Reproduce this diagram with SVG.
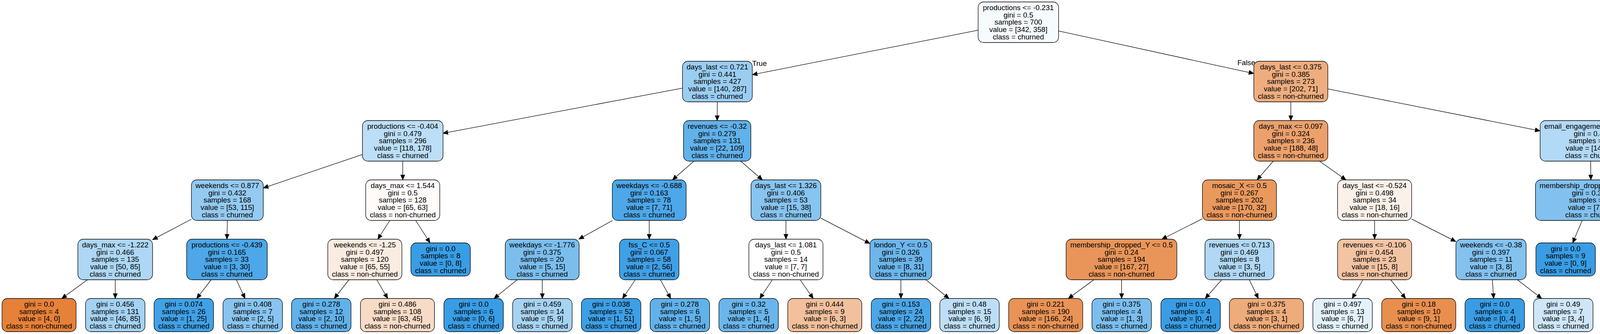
<svg xmlns="http://www.w3.org/2000/svg" width="4682" height="856" viewBox="0 0 4682 856">
<defs>
<style>
.node rect{stroke:#000;stroke-width:1.3}
.node text,.lbl{font-family:"Liberation Sans",Arial,Helvetica,sans-serif;font-size:18.67px;text-anchor:middle;fill:#000}
#edges line{stroke:#000;stroke-width:1.3;marker-end:url(#ah)}
</style>
<marker id="ah" markerUnits="userSpaceOnUse" markerWidth="14" markerHeight="12" refX="13" refY="6" orient="auto" viewBox="0 0 14 12"><path d="M0,0.5 L13,6 L0,11.5 z" fill="#000" stroke="#000" stroke-width="1"/></marker>
</defs>
<rect width="4682" height="856" fill="#fff"/>
<g id="edges">
<line x1="2504" y1="77.3" x2="1925.9" y2="191.4"/>
<line x1="2710" y1="79.4" x2="3209.7" y2="188.3"/>
<line x1="1747.1" y1="225.9" x2="1134" y2="341.6"/>
<line x1="1836.3" y1="261" x2="1836" y2="309"/>
<line x1="3304.5" y1="261" x2="3304.5" y2="309"/>
<line x1="3399.3" y1="227.8" x2="3942.6" y2="335.4"/>
<line x1="928" y1="395.9" x2="674" y2="481.9"/>
<line x1="1031" y1="413" x2="1031" y2="461"/>
<line x1="1776.5" y1="413" x2="1721.5" y2="461"/>
<line x1="1896.2" y1="413" x2="1951.8" y2="461"/>
<line x1="3259.5" y1="413" x2="3218" y2="461"/>
<line x1="3377.9" y1="413" x2="3445.6" y2="461"/>
<line x1="4072.2" y1="413" x2="4072.5" y2="461"/>
<line x1="4185.9" y1="413" x2="4303.7" y2="466.8"/>
<line x1="490" y1="561.7" x2="390.4" y2="614.4"/>
<line x1="582" y1="565" x2="581" y2="613"/>
<line x1="997.8" y1="565" x2="967.2" y2="613"/>
<line x1="1064.2" y1="565" x2="1100.9" y2="622.5"/>
<line x1="1568.3" y1="565" x2="1481.7" y2="613"/>
<line x1="1662" y1="565" x2="1662" y2="613"/>
<line x1="2012" y1="565" x2="2012" y2="613"/>
<line x1="2101.4" y1="559.2" x2="2227" y2="624.2"/>
<line x1="3078.2" y1="560.7" x2="2974.3" y2="613"/>
<line x1="3173" y1="565" x2="3173" y2="613"/>
<line x1="3519" y1="565" x2="3519" y2="613"/>
<line x1="3613.8" y1="561.4" x2="3727.1" y2="619.1"/>
<line x1="4050.4" y1="565" x2="4026" y2="622.5"/>
<line x1="4115.1" y1="565" x2="4154.4" y2="613"/>
<line x1="4405" y1="565" x2="4405" y2="622.5"/>
<line x1="4471.7" y1="565" x2="4545.5" y2="622.5"/>
<line x1="223.8" y1="717" x2="158.1" y2="765"/>
<line x1="295" y1="717" x2="295" y2="765"/>
<line x1="540.7" y1="717" x2="503.5" y2="765"/>
<line x1="605.1" y1="717" x2="627.3" y2="765"/>
<line x1="893.3" y1="717" x2="855.7" y2="765"/>
<line x1="964.5" y1="717" x2="992.6" y2="765"/>
<line x1="1324" y1="717" x2="1264.8" y2="765"/>
<line x1="1388.2" y1="717" x2="1388.4" y2="765"/>
<line x1="1626.4" y1="717" x2="1593.6" y2="765"/>
<line x1="1690.6" y1="717" x2="1717.1" y2="765"/>
<line x1="1977.2" y1="717" x2="1945" y2="765"/>
<line x1="2048.3" y1="717" x2="2081.8" y2="765"/>
<line x1="2306.2" y1="717" x2="2306.4" y2="765"/>
<line x1="2370.2" y1="717" x2="2429.5" y2="765"/>
<line x1="2800.2" y1="717" x2="2734.9" y2="765"/>
<line x1="2871.2" y1="717" x2="2871.4" y2="765"/>
<line x1="3127.4" y1="717" x2="3085.3" y2="765"/>
<line x1="3198.2" y1="717" x2="3221.4" y2="765"/>
<line x1="3489.1" y1="717" x2="3461.5" y2="765"/>
<line x1="3560.2" y1="717" x2="3598.3" y2="765"/>
<line x1="3820.5" y1="717" x2="3823.7" y2="765"/>
<line x1="3884.5" y1="717" x2="3946.8" y2="765"/>
<line x1="4194.8" y1="717" x2="4192.8" y2="765"/>
<line x1="4266" y1="717" x2="4329.6" y2="765"/>
<text class="lbl" x="1944.3" y="169">True</text>
<text class="lbl" x="3190.5" y="167">False</text>
</g>

<g id="n0" class="node"><rect x="2504" y="5" width="206" height="104" rx="14" fill="#f6fbfe"/><text y="26"><tspan x="2607">productions &lt;= -0.231</tspan><tspan x="2607" dy="18.67">gini = 0.5</tspan><tspan x="2607" dy="18.67">samples = 700</tspan><tspan x="2607" dy="18.67">value = [342, 358]</tspan><tspan x="2607" dy="18.67">class = churned</tspan></text></g>

<g id="n1" class="node"><rect x="1747.1" y="157" width="178.8" height="104" rx="14" fill="#9acdf2"/><text y="178"><tspan x="1836.5">days_last &lt;= 0.721</tspan><tspan x="1836.5" dy="18.67">gini = 0.441</tspan><tspan x="1836.5" dy="18.67">samples = 427</tspan><tspan x="1836.5" dy="18.67">value = [140, 287]</tspan><tspan x="1836.5" dy="18.67">class = churned</tspan></text></g>
<g id="n2" class="node"><rect x="3209.7" y="157" width="189.6" height="104" rx="14" fill="#eead7f"/><text y="178"><tspan x="3304.5">days_last &lt;= 0.375</tspan><tspan x="3304.5" dy="18.67">gini = 0.385</tspan><tspan x="3304.5" dy="18.67">samples = 273</tspan><tspan x="3304.5" dy="18.67">value = [202, 71]</tspan><tspan x="3304.5" dy="18.67">class = non-churned</tspan></text></g>

<g id="n3" class="node"><rect x="927.8" y="309" width="206.4" height="104" rx="14" fill="#bcdef6"/><text y="330"><tspan x="1031">productions &lt;= -0.404</tspan><tspan x="1031" dy="18.67">gini = 0.479</tspan><tspan x="1031" dy="18.67">samples = 296</tspan><tspan x="1031" dy="18.67">value = [118, 178]</tspan><tspan x="1031" dy="18.67">class = churned</tspan></text></g>
<g id="n4" class="node"><rect x="1749.75" y="309" width="172.5" height="104" rx="14" fill="#61b1ea"/><text y="330"><tspan x="1836">revenues &lt;= -0.32</tspan><tspan x="1836" dy="18.67">gini = 0.279</tspan><tspan x="1836" dy="18.67">samples = 131</tspan><tspan x="1836" dy="18.67">value = [22, 109]</tspan><tspan x="1836" dy="18.67">class = churned</tspan></text></g>
<g id="n5" class="node"><rect x="3209.7" y="309" width="189.6" height="104" rx="14" fill="#eca16c"/><text y="330"><tspan x="3304.5">days_max &lt;= 0.097</tspan><tspan x="3304.5" dy="18.67">gini = 0.324</tspan><tspan x="3304.5" dy="18.67">samples = 236</tspan><tspan x="3304.5" dy="18.67">value = [188, 48]</tspan><tspan x="3304.5" dy="18.67">class = non-churned</tspan></text></g>
<g id="n6" class="node"><rect x="3942.65" y="309" width="258.7" height="104" rx="14" fill="#b2d9f5"/><text y="330"><tspan x="4072">email_engagement &lt;= 0.609</tspan><tspan x="4072" dy="18.67">gini = 0.47</tspan><tspan x="4072" dy="18.67">samples = 37</tspan><tspan x="4072" dy="18.67">value = [14, 23]</tspan><tspan x="4072" dy="18.67">class = churned</tspan></text></g>

<g id="n7" class="node"><rect x="490" y="461" width="184" height="104" rx="14" fill="#94caf1"/><text y="482"><tspan x="582">weekends &lt;= 0.877</tspan><tspan x="582" dy="18.67">gini = 0.432</tspan><tspan x="582" dy="18.67">samples = 168</tspan><tspan x="582" dy="18.67">value = [53, 115]</tspan><tspan x="582" dy="18.67">class = churned</tspan></text></g>
<g id="n8" class="node"><rect x="936.2" y="461" width="189.6" height="104" rx="14" fill="#fefbf9"/><text y="482"><tspan x="1031">days_max &lt;= 1.544</tspan><tspan x="1031" dy="18.67">gini = 0.5</tspan><tspan x="1031" dy="18.67">samples = 128</tspan><tspan x="1031" dy="18.67">value = [65, 63]</tspan><tspan x="1031" dy="18.67">class = non-churned</tspan></text></g>
<g id="n9" class="node"><rect x="1567.45" y="461" width="189.1" height="104" rx="14" fill="#4da7e8"/><text y="482"><tspan x="1662">weekdays &lt;= -0.688</tspan><tspan x="1662" dy="18.67">gini = 0.163</tspan><tspan x="1662" dy="18.67">samples = 78</tspan><tspan x="1662" dy="18.67">value = [7, 71]</tspan><tspan x="1662" dy="18.67">class = churned</tspan></text></g>
<g id="n10" class="node"><rect x="1922.6" y="461" width="178.8" height="104" rx="14" fill="#87c4ef"/><text y="482"><tspan x="2012">days_last &lt;= 1.326</tspan><tspan x="2012" dy="18.67">gini = 0.406</tspan><tspan x="2012" dy="18.67">samples = 53</tspan><tspan x="2012" dy="18.67">value = [15, 38]</tspan><tspan x="2012" dy="18.67">class = churned</tspan></text></g>
<g id="n11" class="node"><rect x="3078.2" y="461" width="189.6" height="104" rx="14" fill="#ea995e"/><text y="482"><tspan x="3173">mosaic_X &lt;= 0.5</tspan><tspan x="3173" dy="18.67">gini = 0.267</tspan><tspan x="3173" dy="18.67">samples = 202</tspan><tspan x="3173" dy="18.67">value = [170, 32]</tspan><tspan x="3173" dy="18.67">class = non-churned</tspan></text></g>
<g id="n12" class="node"><rect x="3424.2" y="461" width="189.6" height="104" rx="14" fill="#fcf1e9"/><text y="482"><tspan x="3519">days_last &lt;= -0.524</tspan><tspan x="3519" dy="18.67">gini = 0.498</tspan><tspan x="3519" dy="18.67">samples = 34</tspan><tspan x="3519" dy="18.67">value = [18, 16]</tspan><tspan x="3519" dy="18.67">class = non-churned</tspan></text></g>
<g id="n13" class="node"><rect x="3930.75" y="461" width="283.5" height="104" rx="14" fill="#82c1ef"/><text y="482"><tspan x="4072.5">membership_dropped_X &lt;= 0.5</tspan><tspan x="4072.5" dy="18.67">gini = 0.393</tspan><tspan x="4072.5" dy="18.67">samples = 26</tspan><tspan x="4072.5" dy="18.67">value = [7, 19]</tspan><tspan x="4072.5" dy="18.67">class = churned</tspan></text></g>
<g id="n14" class="node"><rect x="4303.7" y="461" width="202.6" height="104" rx="14" fill="#f4c9aa"/><text y="482"><tspan x="4405">days_mean &lt;= -0.405</tspan><tspan x="4405" dy="18.67">gini = 0.463</tspan><tspan x="4405" dy="18.67">samples = 11</tspan><tspan x="4405" dy="18.67">value = [7, 4]</tspan><tspan x="4405" dy="18.67">class = non-churned</tspan></text></g>

<g id="n15" class="node"><rect x="199.4" y="613" width="191.2" height="104" rx="14" fill="#add7f4"/><text y="634"><tspan x="295">days_max &lt;= -1.222</tspan><tspan x="295" dy="18.67">gini = 0.466</tspan><tspan x="295" dy="18.67">samples = 135</tspan><tspan x="295" dy="18.67">value = [50, 85]</tspan><tspan x="295" dy="18.67">class = churned</tspan></text></g>
<g id="n16" class="node"><rect x="477.8" y="613" width="206.4" height="104" rx="14" fill="#4da7e8"/><text y="634"><tspan x="581">productions &lt;= -0.439</tspan><tspan x="581" dy="18.67">gini = 0.165</tspan><tspan x="581" dy="18.67">samples = 33</tspan><tspan x="581" dy="18.67">value = [3, 30]</tspan><tspan x="581" dy="18.67">class = churned</tspan></text></g>
<g id="n17" class="node"><rect x="839.2" y="613" width="189.6" height="104" rx="14" fill="#fbece1"/><text y="634"><tspan x="934">weekends &lt;= -1.25</tspan><tspan x="934" dy="18.67">gini = 0.497</tspan><tspan x="934" dy="18.67">samples = 120</tspan><tspan x="934" dy="18.67">value = [65, 55]</tspan><tspan x="934" dy="18.67">class = non-churned</tspan></text></g>
<g id="n18" class="node"><rect x="1051.9" y="622.5" width="152.2" height="85" rx="14" fill="#399de5"/><text y="643.5"><tspan x="1128">gini = 0.0</tspan><tspan x="1128" dy="18.67">samples = 8</tspan><tspan x="1128" dy="18.67">value = [0, 8]</tspan><tspan x="1128" dy="18.67">class = churned</tspan></text></g>
<g id="n19" class="node"><rect x="1293.45" y="613" width="189.1" height="104" rx="14" fill="#7bbeee"/><text y="634"><tspan x="1388">weekdays &lt;= -1.776</tspan><tspan x="1388" dy="18.67">gini = 0.375</tspan><tspan x="1388" dy="18.67">samples = 20</tspan><tspan x="1388" dy="18.67">value = [5, 15]</tspan><tspan x="1388" dy="18.67">class = churned</tspan></text></g>
<g id="n20" class="node"><rect x="1585.9" y="613" width="152.2" height="104" rx="14" fill="#40a0e6"/><text y="634"><tspan x="1662">fss_C &lt;= 0.5</tspan><tspan x="1662" dy="18.67">gini = 0.067</tspan><tspan x="1662" dy="18.67">samples = 58</tspan><tspan x="1662" dy="18.67">value = [2, 56]</tspan><tspan x="1662" dy="18.67">class = churned</tspan></text></g>
<g id="n21" class="node"><rect x="1917.2" y="613" width="189.6" height="104" rx="14" fill="#ffffff"/><text y="634"><tspan x="2012">days_last &lt;= 1.081</tspan><tspan x="2012" dy="18.67">gini = 0.5</tspan><tspan x="2012" dy="18.67">samples = 14</tspan><tspan x="2012" dy="18.67">value = [7, 7]</tspan><tspan x="2012" dy="18.67">class = non-churned</tspan></text></g>
<g id="n22" class="node"><rect x="2227" y="613" width="158" height="104" rx="14" fill="#6cb6ec"/><text y="634"><tspan x="2306">london_Y &lt;= 0.5</tspan><tspan x="2306" dy="18.67">gini = 0.326</tspan><tspan x="2306" dy="18.67">samples = 39</tspan><tspan x="2306" dy="18.67">value = [8, 31]</tspan><tspan x="2306" dy="18.67">class = churned</tspan></text></g>
<g id="n23" class="node"><rect x="2729.25" y="613" width="283.5" height="104" rx="14" fill="#e99559"/><text y="634"><tspan x="2871">membership_dropped_Y &lt;= 0.5</tspan><tspan x="2871" dy="18.67">gini = 0.24</tspan><tspan x="2871" dy="18.67">samples = 194</tspan><tspan x="2871" dy="18.67">value = [167, 27]</tspan><tspan x="2871" dy="18.67">class = non-churned</tspan></text></g>
<g id="n24" class="node"><rect x="3084.65" y="613" width="176.7" height="104" rx="14" fill="#b0d8f5"/><text y="634"><tspan x="3173">revenues &lt;= 0.713</tspan><tspan x="3173" dy="18.67">gini = 0.469</tspan><tspan x="3173" dy="18.67">samples = 8</tspan><tspan x="3173" dy="18.67">value = [3, 5]</tspan><tspan x="3173" dy="18.67">class = churned</tspan></text></g>
<g id="n25" class="node"><rect x="3424.2" y="613" width="189.6" height="104" rx="14" fill="#f3c4a3"/><text y="634"><tspan x="3519">revenues &lt;= -0.106</tspan><tspan x="3519" dy="18.67">gini = 0.454</tspan><tspan x="3519" dy="18.67">samples = 23</tspan><tspan x="3519" dy="18.67">value = [15, 8]</tspan><tspan x="3519" dy="18.67">class = non-churned</tspan></text></g>
<g id="n26" class="node"><rect x="3727.1" y="613" width="179.8" height="104" rx="14" fill="#83c2ef"/><text y="634"><tspan x="3817">weekends &lt;= -0.38</tspan><tspan x="3817" dy="18.67">gini = 0.397</tspan><tspan x="3817" dy="18.67">samples = 11</tspan><tspan x="3817" dy="18.67">value = [3, 8]</tspan><tspan x="3817" dy="18.67">class = churned</tspan></text></g>
<g id="n27" class="node"><rect x="3931.9" y="622.5" width="152.2" height="85" rx="14" fill="#399de5"/><text y="643.5"><tspan x="4008">gini = 0.0</tspan><tspan x="4008" dy="18.67">samples = 9</tspan><tspan x="4008" dy="18.67">value = [0, 9]</tspan><tspan x="4008" dy="18.67">class = churned</tspan></text></g>
<g id="n28" class="node"><rect x="4108.7" y="613" width="176.6" height="104" rx="14" fill="#c4e2f7"/><text y="634"><tspan x="4197">proximity_B &lt;= 0.5</tspan><tspan x="4197" dy="18.67">gini = 0.484</tspan><tspan x="4197" dy="18.67">samples = 17</tspan><tspan x="4197" dy="18.67">value = [7, 10]</tspan><tspan x="4197" dy="18.67">class = churned</tspan></text></g>
<g id="n29" class="node"><rect x="4310.2" y="622.5" width="189.6" height="85" rx="14" fill="#e9965a"/><text y="643.5"><tspan x="4405">gini = 0.245</tspan><tspan x="4405" dy="18.67">samples = 7</tspan><tspan x="4405" dy="18.67">value = [6, 1]</tspan><tspan x="4405" dy="18.67">class = non-churned</tspan></text></g>
<g id="n30" class="node"><rect x="4523.9" y="622.5" width="152.2" height="85" rx="14" fill="#7bbeee"/><text y="643.5"><tspan x="4600">gini = 0.375</tspan><tspan x="4600" dy="18.67">samples = 4</tspan><tspan x="4600" dy="18.67">value = [1, 3]</tspan><tspan x="4600" dy="18.67">class = churned</tspan></text></g>

<g id="n31" class="node"><rect x="5.2" y="765" width="189.6" height="85" rx="14" fill="#e58139"/><text y="786"><tspan x="100">gini = 0.0</tspan><tspan x="100" dy="18.67">samples = 4</tspan><tspan x="100" dy="18.67">value = [4, 0]</tspan><tspan x="100" dy="18.67">class = non-churned</tspan></text></g>
<g id="n32" class="node"><rect x="218.9" y="765" width="152.2" height="85" rx="14" fill="#a4d2f3"/><text y="786"><tspan x="295">gini = 0.456</tspan><tspan x="295" dy="18.67">samples = 131</tspan><tspan x="295" dy="18.67">value = [46, 85]</tspan><tspan x="295" dy="18.67">class = churned</tspan></text></g>
<g id="n33" class="node"><rect x="394.4" y="765" width="152.2" height="85" rx="14" fill="#41a1e6"/><text y="786"><tspan x="470.5">gini = 0.074</tspan><tspan x="470.5" dy="18.67">samples = 26</tspan><tspan x="470.5" dy="18.67">value = [1, 25]</tspan><tspan x="470.5" dy="18.67">class = churned</tspan></text></g>
<g id="n34" class="node"><rect x="570.9" y="765" width="152.2" height="85" rx="14" fill="#88c4ef"/><text y="786"><tspan x="647">gini = 0.408</tspan><tspan x="647" dy="18.67">samples = 7</tspan><tspan x="647" dy="18.67">value = [2, 5]</tspan><tspan x="647" dy="18.67">class = churned</tspan></text></g>
<g id="n35" class="node"><rect x="746.4" y="765" width="152.2" height="85" rx="14" fill="#61b1ea"/><text y="786"><tspan x="822.5">gini = 0.278</tspan><tspan x="822.5" dy="18.67">samples = 12</tspan><tspan x="822.5" dy="18.67">value = [2, 10]</tspan><tspan x="822.5" dy="18.67">class = churned</tspan></text></g>
<g id="n36" class="node"><rect x="922.7" y="765" width="189.6" height="85" rx="14" fill="#f8dbc6"/><text y="786"><tspan x="1017.5">gini = 0.486</tspan><tspan x="1017.5" dy="18.67">samples = 108</tspan><tspan x="1017.5" dy="18.67">value = [63, 45]</tspan><tspan x="1017.5" dy="18.67">class = non-churned</tspan></text></g>
<g id="n37" class="node"><rect x="1136.4" y="765" width="152.2" height="85" rx="14" fill="#399de5"/><text y="786"><tspan x="1212.5">gini = 0.0</tspan><tspan x="1212.5" dy="18.67">samples = 6</tspan><tspan x="1212.5" dy="18.67">value = [0, 6]</tspan><tspan x="1212.5" dy="18.67">class = churned</tspan></text></g>
<g id="n38" class="node"><rect x="1312.4" y="765" width="152.2" height="85" rx="14" fill="#a7d3f3"/><text y="786"><tspan x="1388.5">gini = 0.459</tspan><tspan x="1388.5" dy="18.67">samples = 14</tspan><tspan x="1388.5" dy="18.67">value = [5, 9]</tspan><tspan x="1388.5" dy="18.67">class = churned</tspan></text></g>
<g id="n39" class="node"><rect x="1488.4" y="765" width="152.2" height="85" rx="14" fill="#3d9fe6"/><text y="786"><tspan x="1564.5">gini = 0.038</tspan><tspan x="1564.5" dy="18.67">samples = 52</tspan><tspan x="1564.5" dy="18.67">value = [1, 51]</tspan><tspan x="1564.5" dy="18.67">class = churned</tspan></text></g>
<g id="n40" class="node"><rect x="1664.4" y="765" width="152.2" height="85" rx="14" fill="#61b1ea"/><text y="786"><tspan x="1740.5">gini = 0.278</tspan><tspan x="1740.5" dy="18.67">samples = 6</tspan><tspan x="1740.5" dy="18.67">value = [1, 5]</tspan><tspan x="1740.5" dy="18.67">class = churned</tspan></text></g>
<g id="n41" class="node"><rect x="1840.4" y="765" width="152.2" height="85" rx="14" fill="#6ab6ec"/><text y="786"><tspan x="1916.5">gini = 0.32</tspan><tspan x="1916.5" dy="18.67">samples = 5</tspan><tspan x="1916.5" dy="18.67">value = [1, 4]</tspan><tspan x="1916.5" dy="18.67">class = churned</tspan></text></g>
<g id="n42" class="node"><rect x="2016.7" y="765" width="189.6" height="85" rx="14" fill="#f2c09c"/><text y="786"><tspan x="2111.5">gini = 0.444</tspan><tspan x="2111.5" dy="18.67">samples = 9</tspan><tspan x="2111.5" dy="18.67">value = [6, 3]</tspan><tspan x="2111.5" dy="18.67">class = non-churned</tspan></text></g>
<g id="n43" class="node"><rect x="2230.4" y="765" width="152.2" height="85" rx="14" fill="#4ba6e7"/><text y="786"><tspan x="2306.5">gini = 0.153</tspan><tspan x="2306.5" dy="18.67">samples = 24</tspan><tspan x="2306.5" dy="18.67">value = [2, 22]</tspan><tspan x="2306.5" dy="18.67">class = churned</tspan></text></g>
<g id="n44" class="node"><rect x="2405.9" y="765" width="152.2" height="85" rx="14" fill="#bddef6"/><text y="786"><tspan x="2482">gini = 0.48</tspan><tspan x="2482" dy="18.67">samples = 15</tspan><tspan x="2482" dy="18.67">value = [6, 9]</tspan><tspan x="2482" dy="18.67">class = churned</tspan></text></g>
<g id="n45" class="node"><rect x="2582.2" y="765" width="189.6" height="85" rx="14" fill="#e99356"/><text y="786"><tspan x="2677">gini = 0.221</tspan><tspan x="2677" dy="18.67">samples = 190</tspan><tspan x="2677" dy="18.67">value = [166, 24]</tspan><tspan x="2677" dy="18.67">class = non-churned</tspan></text></g>
<g id="n46" class="node"><rect x="2795.4" y="765" width="152.2" height="85" rx="14" fill="#7bbeee"/><text y="786"><tspan x="2871.5">gini = 0.375</tspan><tspan x="2871.5" dy="18.67">samples = 4</tspan><tspan x="2871.5" dy="18.67">value = [1, 3]</tspan><tspan x="2871.5" dy="18.67">class = churned</tspan></text></g>
<g id="n47" class="node"><rect x="2971.9" y="765" width="152.2" height="85" rx="14" fill="#399de5"/><text y="786"><tspan x="3048">gini = 0.0</tspan><tspan x="3048" dy="18.67">samples = 4</tspan><tspan x="3048" dy="18.67">value = [0, 4]</tspan><tspan x="3048" dy="18.67">class = churned</tspan></text></g>
<g id="n48" class="node"><rect x="3147.2" y="765" width="189.6" height="85" rx="14" fill="#eeab7b"/><text y="786"><tspan x="3242">gini = 0.375</tspan><tspan x="3242" dy="18.67">samples = 4</tspan><tspan x="3242" dy="18.67">value = [3, 1]</tspan><tspan x="3242" dy="18.67">class = non-churned</tspan></text></g>
<g id="n49" class="node"><rect x="3360.9" y="765" width="152.2" height="85" rx="14" fill="#e3f1fb"/><text y="786"><tspan x="3437">gini = 0.497</tspan><tspan x="3437" dy="18.67">samples = 13</tspan><tspan x="3437" dy="18.67">value = [6, 7]</tspan><tspan x="3437" dy="18.67">class = churned</tspan></text></g>
<g id="n50" class="node"><rect x="3537.2" y="765" width="189.6" height="85" rx="14" fill="#e88f4f"/><text y="786"><tspan x="3632">gini = 0.18</tspan><tspan x="3632" dy="18.67">samples = 10</tspan><tspan x="3632" dy="18.67">value = [9, 1]</tspan><tspan x="3632" dy="18.67">class = non-churned</tspan></text></g>
<g id="n51" class="node"><rect x="3750.4" y="765" width="152.2" height="85" rx="14" fill="#399de5"/><text y="786"><tspan x="3826.5">gini = 0.0</tspan><tspan x="3826.5" dy="18.67">samples = 4</tspan><tspan x="3826.5" dy="18.67">value = [0, 4]</tspan><tspan x="3826.5" dy="18.67">class = churned</tspan></text></g>
<g id="n52" class="node"><rect x="3925.9" y="765" width="152.2" height="85" rx="14" fill="#cee6f8"/><text y="786"><tspan x="4002">gini = 0.49</tspan><tspan x="4002" dy="18.67">samples = 7</tspan><tspan x="4002" dy="18.67">value = [3, 4]</tspan><tspan x="4002" dy="18.67">class = churned</tspan></text></g>
<g id="n53" class="node"><rect x="4114.9" y="765" width="152.2" height="85" rx="14" fill="#7bbeee"/><text y="786"><tspan x="4191">gini = 0.375</tspan><tspan x="4191" dy="18.67">samples = 12</tspan><tspan x="4191" dy="18.67">value = [3, 9]</tspan><tspan x="4191" dy="18.67">class = churned</tspan></text></g>
<g id="n54" class="node"><rect x="4291.2" y="765" width="189.6" height="85" rx="14" fill="#eca06a"/><text y="786"><tspan x="4386">gini = 0.32</tspan><tspan x="4386" dy="18.67">samples = 5</tspan><tspan x="4386" dy="18.67">value = [4, 1]</tspan><tspan x="4386" dy="18.67">class = non-churned</tspan></text></g>
</svg>
